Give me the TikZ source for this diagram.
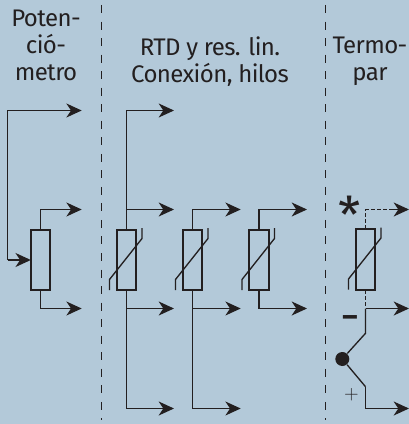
\documentclass[tikz,border=0pt]{standalone}
\usepackage{fontspec}
\setmainfont[LetterSpace=-2.5]{Fira Sans}
\usetikzlibrary{arrows.meta}
\definecolor{panelblue}{RGB}{179,201,217}
\definecolor{inkdark}{RGB}{35,31,32}
\tikzset{every picture/.style={line width=0.75pt}}
\tikzset{
  wire/.style={color=inkdark,line width=1pt,-{Stealth[length=11.5pt,width=10.5pt,inset=3.5pt]}},
  plainwire/.style={color=inkdark,line width=1pt},
  dotwire/.style={color=inkdark,line width=1pt,dash pattern=on 3pt off 1.7pt},
  divider/.style={color=inkdark,line width=1.2pt,dash pattern=on 6pt off 6.4pt},
  resbox/.style={draw=inkdark,line width=1.5pt,minimum width=14.5pt,minimum height=45.5pt,inner sep=0pt,outer sep=0pt},
  heading/.style={font=\fontsize{18}{20.2}\selectfont,text=inkdark,align=center,inner sep=0pt},
}
\begin{document}
\begin{tikzpicture}[x=0.75pt,y=0.75pt,yscale=-1,xscale=1]
\useasboundingbox (0,0) rectangle (409,424);
\fill [panelblue] (0,0) rectangle (409,424);

%Column dividers
\draw [divider] (101.5,5) -- (101.5,420);
\draw [divider] (325.5,5) -- (325.5,420);

%Resistors
\node [resbox] (pot) at (40.5,260) {};
\node [resbox] (rtdA) at (126.5,260) {};
\node [resbox] (rtdB) at (192.5,260) {};
\node [resbox] (rtdC) at (259,260) {};
\node [resbox] (tc) at (365.5,259.5) {};

%Slashes through the sensors
\foreach \rtd in {rtdA,rtdB,rtdC,tc}
  \draw [plainwire] ([shift={(-17,30)}]\rtd.center) -- ([shift={(-17,19.5)}]\rtd.center) -- ([shift={(15.5,-21.5)}]\rtd.center) -- ([shift={(15.5,-32)}]\rtd.center);

%Free ends
\coordinate (potFar) at (81.7,110.5);
\coordinate (potBend) at (7.5,110.5);
\coordinate (potMid) at (81.7,209.5);
\coordinate (potLow) at (81.7,308.5);
\coordinate (aFar) at (174,110.5);
\coordinate (aMid) at (174,209.5);
\coordinate (aJoinTop) at (126.5,209.5);
\coordinate (aLow) at (174,308.5);
\coordinate (aJoinLow) at (126.5,308.5);
\coordinate (aEnd) at (174,408.5);
\coordinate (bMid) at (240.7,209.5);
\coordinate (bLow) at (240.7,308.5);
\coordinate (bJoinLow) at (192.5,308.5);
\coordinate (bEnd) at (240.7,408.5);
\coordinate (cMid) at (307,209.5);
\coordinate (cLow) at (307,308.5);
\coordinate (tcTop) at (409,209.5);
\coordinate (tcJoin) at (365.5,308.5);
\coordinate (tcMid) at (409,308.5);
\coordinate (tcKneeA) at (365.5,333.3);
\coordinate (tcKneeB) at (365.5,386.7);
\coordinate (tcLow) at (409,408.5);

%Potentiometer leads
\draw [plainwire] (potBend |- pot.west) -- (potBend);
\draw [wire] (potBend) -- (potFar);
\draw [wire] (potBend |- pot.west) -- (pot.west);
\draw [wire] (pot.north) |- (potMid);
\draw [wire] (pot.south) |- (potLow);

%RTD leads
\draw [wire] (rtdA.north) |- (aFar);
\draw [wire] (aJoinTop) -- (aMid);
\draw [wire] (rtdA.south) |- (aEnd);
\draw [wire] (aJoinLow) -- (aLow);
\draw [wire] (rtdB.north) |- (bMid);
\draw [wire] (rtdB.south) |- (bEnd);
\draw [wire] (bJoinLow) -- (bLow);
\draw [wire] (rtdC.north) |- (cMid);
\draw [wire] (rtdC.south) |- (cLow);

%Thermocouple leads
\draw [dotwire] (tc.north) |- ([xshift=-14]tcTop);
\draw [wire] ([xshift=-15]tcTop) -- (tcTop);
\draw [dotwire] (tc.south) -- (tcJoin);
\draw [wire] (tcJoin) -- (tcMid);
\node [circle,fill=inkdark,minimum size=10.5pt,inner sep=0pt] (tcDot) at (342.3,359) {};
\draw [plainwire] (tcJoin) -- (tcKneeA) -- (tcDot);
\draw [plainwire] (tcDot) -- (tcKneeB);
\draw [wire] (tcKneeB) |- (tcLow);

% Text Node
\node [heading,anchor=north] (potTitle) at (46,9.5) {Poten-\\ció-\\metro};
\node [heading,anchor=north] (rtdTitle) at (210,36.5) {RTD y res. lin.\\Conexión, hilos};
\node [heading,anchor=north] (tcTitle) at (370,36.5) {Termo-\\par};
\node [font=\fontsize{38}{38}\selectfont,text=inkdark,inner sep=0pt] (starMark) at (350,215) {*};
\node [font=\fontsize{22}{22}\selectfont\bfseries,text=inkdark,inner sep=0pt] (minusMark) at (350,321) {–};
\node [font=\fontsize{15}{15}\selectfont,text=inkdark,inner sep=0pt] (plusMark) at (351.5,395) {$+$};
\end{tikzpicture}
\end{document}
